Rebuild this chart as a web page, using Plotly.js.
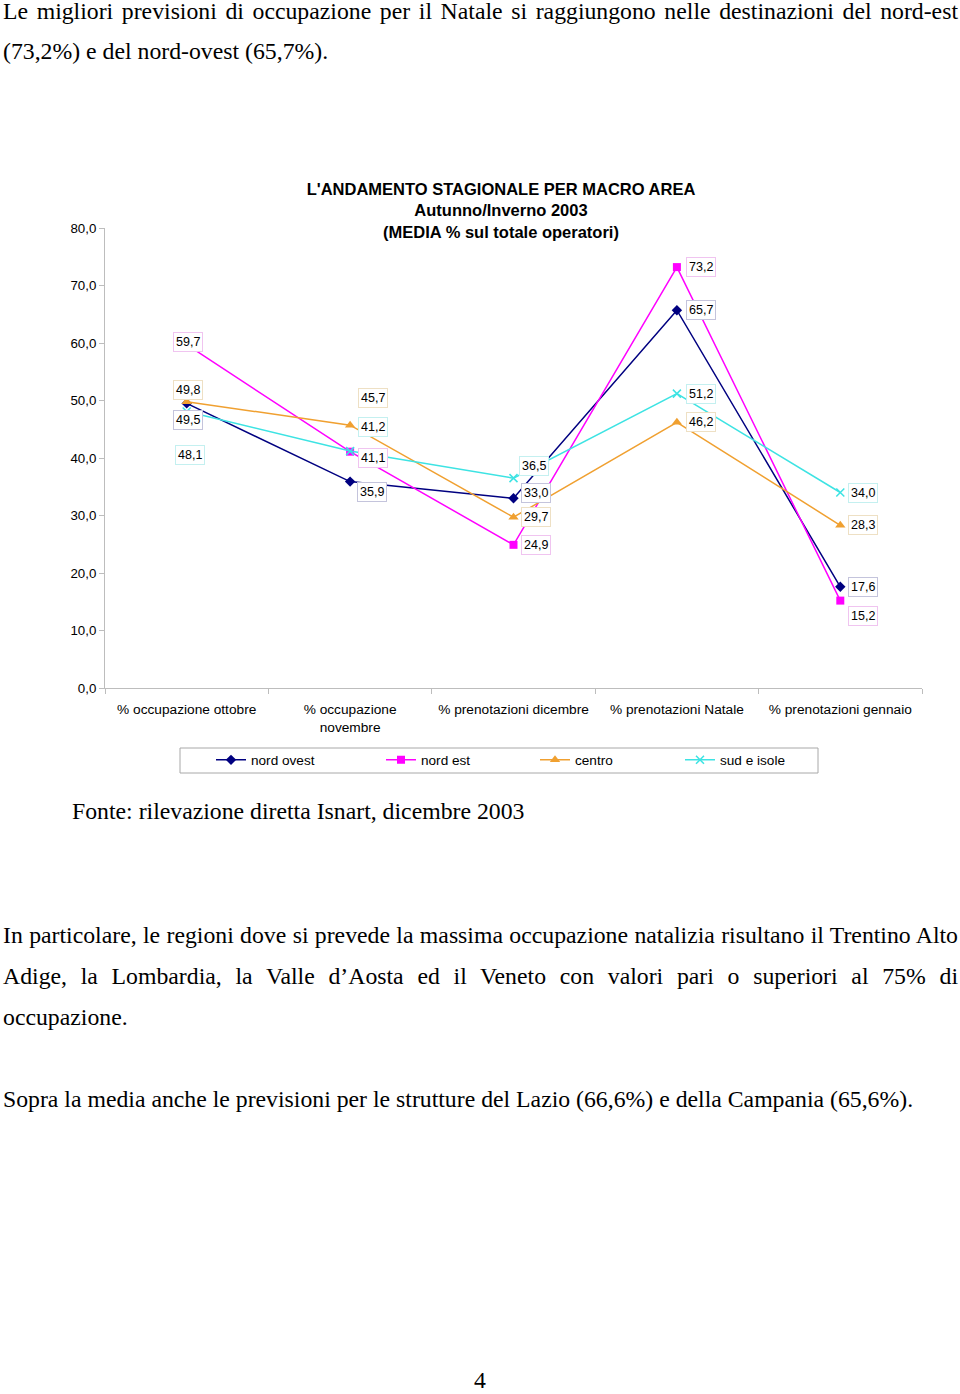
<!DOCTYPE html>
<html>
<head>
<meta charset="utf-8">
<script src="https://cdn.plot.ly/plotly-3.0.1.min.js"></script>
<style>
  html, body { margin: 0; padding: 0; background: #fff; }
  body { width: 960px; height: 1394px; position: relative; overflow: hidden; }
  .txt { position: absolute; font-family: "Liberation Serif", "Times New Roman", serif; font-size: 23.75px; line-height: 23px; color: #000; white-space: nowrap; }
  .just { white-space: normal; text-align: justify; text-align-last: justify; }
  #chart { position: absolute; left: 0; top: 160px; width: 960px; height: 630px; }
</style>
</head>
<body>
<div class="txt just" style="left:3px; top:0px; width:955px;">Le migliori previsioni di occupazione per il Natale si raggiungono nelle destinazioni del nord-est</div>
<div class="txt" style="left:3px; top:40px;">(73,2%) e del nord-ovest (65,7%).</div>

<div id="chart"></div>

<div class="txt" style="left:72px; top:800px;">Fonte: rilevazione diretta Isnart, dicembre 2003</div>

<div class="txt just" style="left:3px; top:924px; width:955px;">In particolare, le regioni dove si prevede la massima occupazione natalizia risultano il Trentino Alto</div>
<div class="txt just" style="left:3px; top:965px; width:955px;">Adige, la Lombardia, la Valle d’Aosta ed il Veneto con valori pari o superiori al 75% di</div>
<div class="txt" style="left:3px; top:1006px;">occupazione.</div>

<div class="txt" style="left:3px; top:1088px;">Sopra la media anche le previsioni per le strutture del Lazio (66,6%) e della Campania (65,6%).</div>

<div class="txt" style="left:474px; top:1369px;">4</div>

<script>
// ---- data ----
const categories = [
  "% occupazione ottobre",
  "% occupazione<br>novembre",
  "% prenotazioni dicembre",
  "% prenotazioni Natale",
  "% prenotazioni gennaio"
];
const seriesNames = ["nord ovest", "nord est", "centro", "sud e isole"];
const nordOvest = [49.5, 35.9, 33.0, 65.7, 17.6];
const nordEst   = [59.7, 41.1, 24.9, 73.2, 15.2];
const centro    = [49.8, 45.7, 29.7, 46.2, 28.3];
const sudIsole  = [48.1, 41.2, 36.5, 51.2, 34.0];
const yTicks = [0, 10, 20, 30, 40, 50, 60, 70, 80];

// ---- styles ----
const colors = ["#000080", "#FF00FF", "#F0A030", "#3DE3E3"];
const labelBorders = ["#C4C4DC", "#F0C4F0", "#EEE0C4", "#C4F0F0"];
const markers = [
  {symbol: "diamond", size: 8},
  {symbol: "square", size: 8},
  {symbol: "triangle-up", size: 9},
  {symbol: "x-thin-open", size: 8}
];
// label nudges (pixels) per series per category: [dx, dy]
const labelNudge = [
  [[1, -17], [22, -10], [22, 5], [24, 0], [23, 0]],
  [[1, 3],   [23, -6],  [22, 0], [24, 0], [23, -15]],
  [[1, 12],  [23, 27],  [22, 0], [24, 0], [23, 0]],
  [[3, -44], [23, 24],  [20, 12], [24, 0], [23, 0]]
];

const allSeries = [nordOvest, nordEst, centro, sudIsole];
const legendKeys = ["legend", "legend2", "legend3", "legend4"];

// plot geometry in page pixels
const L = 105, R = 922, T = 228, B = 688, DIVTOP = 160, DIVH = 630;
const px2paperX = p => (p - L) / (R - L);
const px2paperY = p => (B - p) / (B - T);

const traces = allSeries.map((vals, i) => ({
  type: "scatter",
  mode: "lines+markers",
  name: seriesNames[i],
  x: categories,
  y: vals,
  legend: legendKeys[i],
  line: {color: colors[i], width: 1.5},
  marker: {
    symbol: markers[i].symbol,
    size: markers[i].size,
    color: colors[i],
    line: {color: colors[i], width: i === 3 ? 1.5 : 0}
  },
  hoverinfo: "skip"
}));

const annotations = [];
allSeries.forEach((vals, i) => {
  vals.forEach((v, j) => {
    annotations.push({
      x: categories[j], y: v, xref: "x", yref: "y",
      text: v.toFixed(1).replace(".", ","),
      showarrow: false,
      xshift: labelNudge[i][j][0], yshift: labelNudge[i][j][1],
      bgcolor: "#ffffff", bordercolor: labelBorders[i], borderwidth: 1, borderpad: 2,
      font: {family: "Liberation Sans, Arial, sans-serif", size: 12.5, color: "#000"}
    });
  });
});

// legend entry positions (page px of line start)
const legendStarts = [217, 387, 541, 686];
const legendFont = {family: "Liberation Sans, Arial, sans-serif", size: 13.6, color: "#000"};
const layout = {
  width: 960, height: DIVH,
  margin: {l: L, r: 960 - R, t: T - DIVTOP, b: DIVTOP + DIVH - B},
  paper_bgcolor: "#ffffff", plot_bgcolor: "#ffffff",
  separators: ",.",
  title: {
    text: "<b>L'ANDAMENTO STAGIONALE PER MACRO AREA</b><br><b>Autunno/Inverno 2003</b><br><b>(MEDIA % sul totale operatori)</b>",
    font: {family: "Liberation Sans, Arial, sans-serif", size: 16.5, color: "#000"},
    x: 501 / 960, xref: "container", xanchor: "center",
    y: 1 - 35 / DIVH, yref: "container", yanchor: "top"
  },
  xaxis: {
    type: "category",
    range: [-0.5, 4.5],
    showline: true, linecolor: "#BDBDBD", linewidth: 1,
    ticks: "outside", tickson: "boundaries", ticklen: 5, tickcolor: "#BDBDBD",
    showgrid: false, zeroline: false,
    tickfont: {family: "Liberation Sans, Arial, sans-serif", size: 13.7, color: "#000"},
    ticklabelstandoff: 9,
    fixedrange: true
  },
  yaxis: {
    range: [0, 80],
    tickmode: "array", tickvals: yTicks,
    tickformat: ".1f",
    showline: true, linecolor: "#BDBDBD", linewidth: 1,
    ticks: "outside", ticklen: 5, tickcolor: "#BDBDBD",
    showgrid: false, zeroline: false,
    tickfont: {family: "Liberation Sans, Arial, sans-serif", size: 13.3, color: "#000"},
    fixedrange: true
  },
  annotations: annotations,
  shapes: [{
    type: "rect", xref: "paper", yref: "paper",
    x0: px2paperX(180), x1: px2paperX(818),
    y0: px2paperY(748), y1: px2paperY(773),
    line: {color: "#A8A8A8", width: 1}, fillcolor: "rgba(0,0,0,0)", layer: "below"
  }],
  showlegend: true
};
legendKeys.forEach((k, i) => {
  layout[k] = {
    x: px2paperX(legendStarts[i] - 6), xanchor: "left",
    y: px2paperY(760), yanchor: "middle",
    orientation: "h",
    bgcolor: "rgba(0,0,0,0)", borderwidth: 0,
    font: legendFont,
    itemwidth: 30
  };
});

Plotly.newPlot("chart", traces, layout, {staticPlot: true, displayModeBar: false});
</script>
</body>
</html>
